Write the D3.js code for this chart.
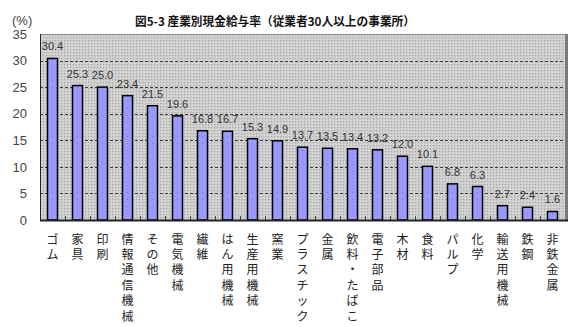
<!DOCTYPE html>
<html>
<head>
<meta charset="utf-8">
<script src="https://cdn.jsdelivr.net/npm/d3@7"></script>
<style>
  html, body { margin: 0; padding: 0; background: #fff; }
  svg { display: block; }
</style>
</head>
<body>
<div id="chart"></div>
<script>
// 産業別現金給与率（従業者30人以上の事業所）
const categories = [
  "ゴム", "家具", "印刷", "情報通信機械", "その他", "電気機械", "繊維",
  "はん用機械", "生産用機械", "窯業", "プラスチック", "金属", "飲料・たばこ",
  "電子部品", "木材", "食料", "パルプ", "化学", "輸送用機械", "鉄鋼", "非鉄金属"
];
const values = [
  30.4, 25.3, 25.0, 23.4, 21.5, 19.6, 16.8,
  16.7, 15.3, 14.9, 13.7, 13.5, 13.4,
  13.2, 12.0, 10.1, 6.8, 6.3, 2.7, 2.4, 1.6
];
const yTicks = [0, 5, 10, 15, 20, 25, 30, 35];
const titleText = "図5-3 産業別現金給与率（従業者30人以上の事業所）";
const unitText = "(%)";

const W = 573, H = 327;
const plot = { left: 40, right: 565, top: 34, bottom: 220 };

const svg = d3.select("#chart").append("svg")
  .attr("width", W).attr("height", H);

// textured fills for the plot background and the bars
const defs = svg.append("defs");
const bgPat = defs.append("pattern").attr("id", "bgPat")
  .attr("patternUnits", "userSpaceOnUse").attr("width", 3).attr("height", 3);
bgPat.append("rect").attr("width", 3).attr("height", 3).attr("fill", "#cdcdcd");
bgPat.append("rect").attr("x", 1).attr("y", 1).attr("width", 1).attr("height", 1).attr("fill", "#a4a4a4");
bgPat.append("rect").attr("x", 0).attr("y", 0).attr("width", 1).attr("height", 1).attr("fill", "#dedede");

const barPat = defs.append("pattern").attr("id", "barPat")
  .attr("patternUnits", "userSpaceOnUse").attr("width", 5).attr("height", 7);
barPat.append("rect").attr("width", 5).attr("height", 7).attr("fill", "#9999ff");
barPat.append("rect").attr("x", 2).attr("y", 3).attr("width", 1).attr("height", 1).attr("fill", "#7777e6");

const x = d3.scaleBand().domain(categories).range([plot.left, plot.right]).padding(0);
const y = d3.scaleLinear().domain([0, 35]).range([plot.bottom, plot.top]);
const barW = x.bandwidth() * 0.4;

// plot background
svg.append("rect")
  .attr("x", plot.left).attr("y", plot.top)
  .attr("width", plot.right - plot.left).attr("height", plot.bottom - plot.top)
  .attr("fill", "url(#bgPat)");

// gridlines
svg.append("g").selectAll("line")
  .data(yTicks.filter(d => d > 0 && d < 35))
  .join("line")
  .attr("x1", plot.left).attr("x2", plot.right)
  .attr("y1", d => Math.round(y(d)) + 0.5).attr("y2", d => Math.round(y(d)) + 0.5)
  .attr("stroke", "#3c3c3c").attr("stroke-width", 1)
  .attr("stroke-dasharray", "3,2");

// frame: top edge, right shadow, left axis
svg.append("line")
  .attr("x1", plot.left).attr("x2", plot.right)
  .attr("y1", plot.top + 0.5).attr("y2", plot.top + 0.5)
  .attr("stroke", "#8a8a8a").attr("stroke-width", 1);
svg.append("rect")
  .attr("x", plot.right).attr("y", plot.top)
  .attr("width", 3).attr("height", plot.bottom - plot.top)
  .attr("fill", "#7a7a7a");
svg.append("line")
  .attr("x1", plot.left + 0.5).attr("x2", plot.left + 0.5)
  .attr("y1", plot.top).attr("y2", plot.bottom)
  .attr("stroke", "#222").attr("stroke-width", 1);

// bars
svg.append("g").selectAll("rect")
  .data(values)
  .join("rect")
  .attr("x", (d, i) => x(categories[i]) + (x.bandwidth() - barW) / 2)
  .attr("y", d => y(d))
  .attr("width", barW)
  .attr("height", d => y(0) - y(d))
  .attr("fill", "url(#barPat)")
  .attr("stroke", "#000").attr("stroke-width", 1.5);

// category tick marks on the baseline
svg.append("g").selectAll("line")
  .data(categories.slice(1))
  .join("line")
  .attr("x1", d => Math.round(x(d)) + 0.5).attr("x2", d => Math.round(x(d)) + 0.5)
  .attr("y1", plot.bottom - 4).attr("y2", plot.bottom)
  .attr("stroke", "#444").attr("stroke-width", 1);

// x axis line
svg.append("line")
  .attr("x1", plot.left).attr("x2", plot.right + 3)
  .attr("y1", plot.bottom + 0.5).attr("y2", plot.bottom + 0.5)
  .attr("stroke", "#222").attr("stroke-width", 2);

// value labels
svg.append("g").selectAll("text")
  .data(values)
  .join("text")
  .attr("x", (d, i) => x(categories[i]) + x.bandwidth() / 2)
  .attr("y", d => y(d) - 8)
  .attr("text-anchor", "middle")
  .attr("font-family", "'Liberation Sans', Arial, sans-serif")
  .attr("font-size", 11)
  .attr("fill", "#333")
  .text(d => d.toFixed(1));

// y axis labels
const yAxis = d3.axisLeft(y).tickValues(yTicks).tickSize(0).tickPadding(13);
const gy = svg.append("g").attr("transform", `translate(${plot.left},0)`).call(yAxis);
gy.select(".domain").remove();
gy.selectAll("text")
  .attr("font-family", "'Liberation Sans', Arial, sans-serif")
  .attr("font-size", 13)
  .attr("fill", "#444");

// vertical category labels, one character per line
const charStep = 15.4;
const gx = svg.append("g");
categories.forEach(c => {
  const cx = x(c) + x.bandwidth() / 2;
  Array.from(c).forEach((ch, k) => {
    gx.append("text")
      .attr("x", cx)
      .attr("y", 238 + k * charStep)
      .attr("text-anchor", "middle")
      .attr("dominant-baseline", "central")
      .attr("font-family", "'Noto Sans CJK JP', sans-serif")
      .attr("font-size", 12)
      .attr("fill", "#222")
      .text(ch);
  });
});

// unit label and title
svg.append("text")
  .attr("x", 12).attr("y", 25)
  .attr("font-family", "'Liberation Sans', Arial, sans-serif")
  .attr("font-size", 13)
  .attr("fill", "#444")
  .text(unitText);

svg.append("text")
  .attr("x", 135).attr("y", 26)
  .attr("font-family", "'Noto Sans CJK JP', sans-serif")
  .attr("font-size", 12)
  .attr("font-weight", "bold")
  .attr("fill", "#111")
  .attr("textLength", 280)
  .attr("lengthAdjust", "spacingAndGlyphs")
  .text(titleText);
</script>
</body>
</html>
